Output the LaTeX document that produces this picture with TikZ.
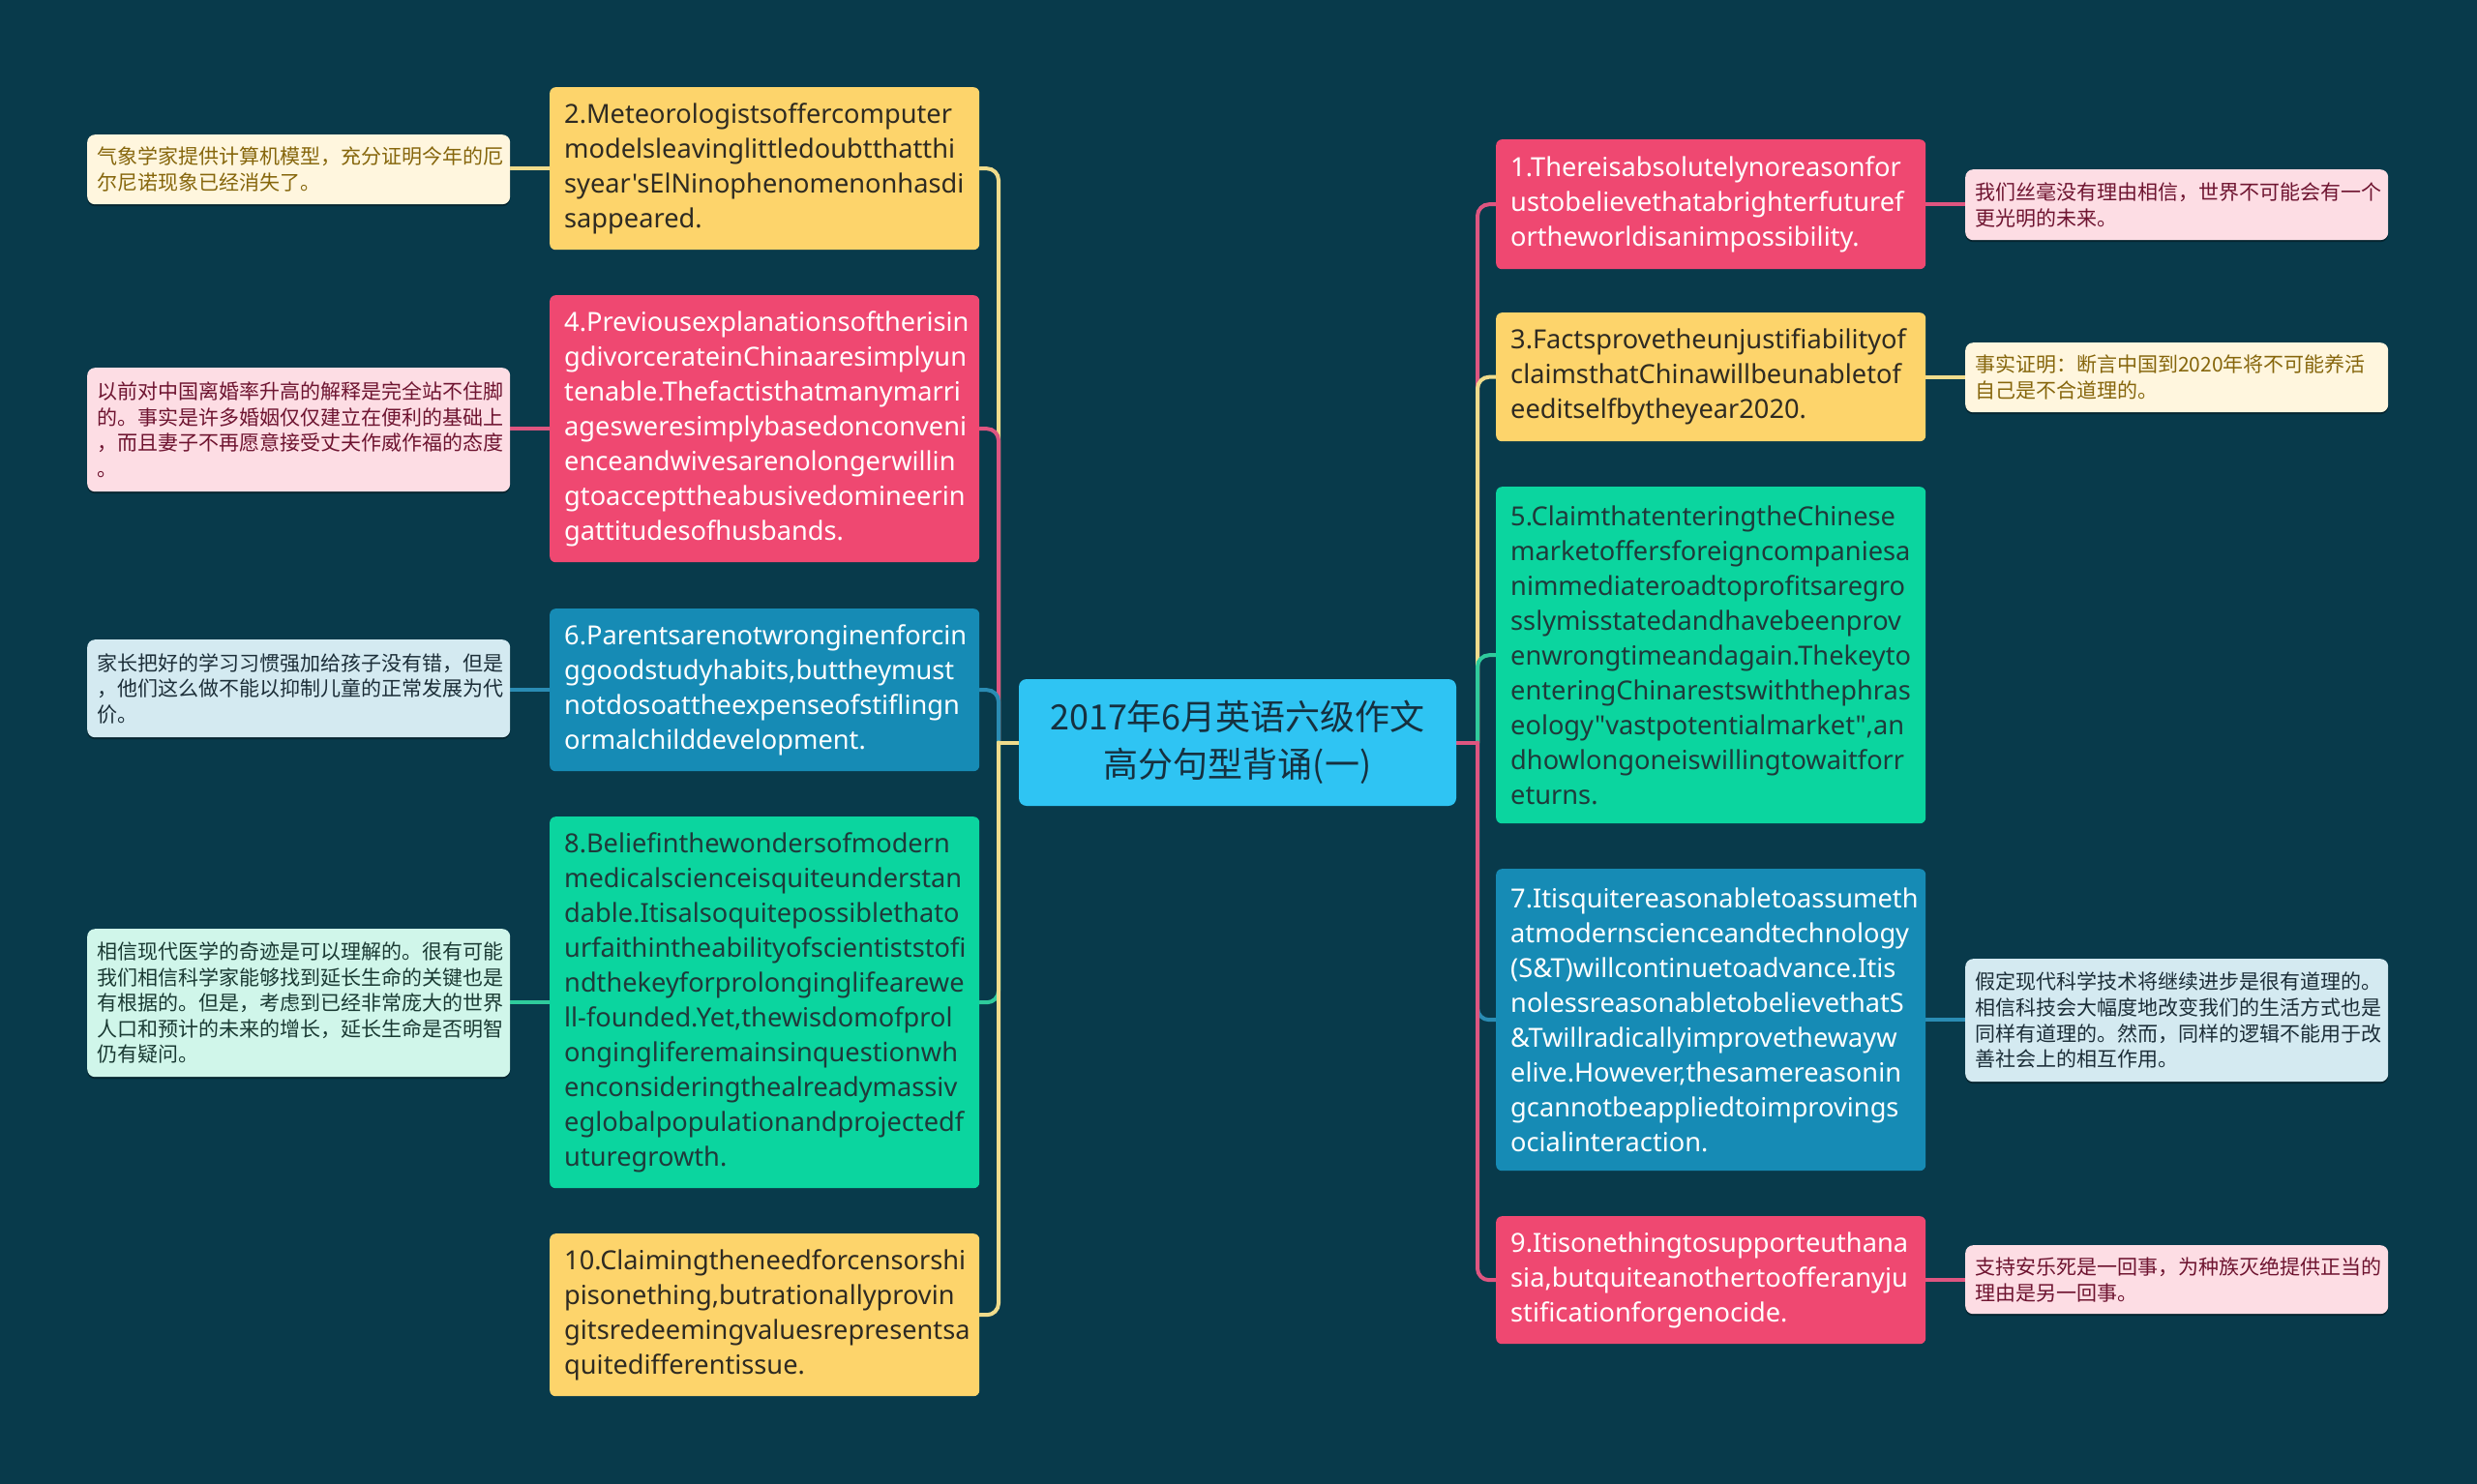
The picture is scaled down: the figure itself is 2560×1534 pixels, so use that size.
\documentclass[tikz,border=0pt]{standalone}
\usepackage{fontspec}
\newfontfamily\cjk{Noto Sans CJK SC}
\newfontfamily\lat{Noto Sans}
\usetikzlibrary{shadows}
\pgfdeclarelayer{back}
\pgfdeclarelayer{lines}
\pgfsetlayers{back,lines,main}
\definecolor{bgc}{HTML}{083A4B}
\definecolor{redc}{HTML}{EF4871}
\definecolor{yelc}{HTML}{FDD46B}
\definecolor{bluc}{HTML}{168BB5}
\definecolor{grnc}{HTML}{0BD59F}
\definecolor{cenc}{HTML}{2FC4F3}
\definecolor{redl}{HTML}{DE5580}
\definecolor{yell}{HTML}{F0DC8C}
\definecolor{blul}{HTML}{2A8CB4}
\definecolor{grnl}{HTML}{2FCB9C}
\definecolor{ntyel}{HTML}{FFF6DE}
\definecolor{ntred}{HTML}{FDDDE4}
\definecolor{ntblu}{HTML}{D4EAF1}
\definecolor{ntgrn}{HTML}{D0F6EA}
\definecolor{tyel}{HTML}{86660C}
\definecolor{tred}{HTML}{6E1430}
\definecolor{tblu}{HTML}{1C2E38}
\definecolor{tgrn}{HTML}{1A3A33}
\definecolor{tdyel}{HTML}{2E2A22}
\definecolor{tdgrn}{HTML}{1F3A3A}
\definecolor{tcen}{HTML}{16303F}
\tikzset{
  br/.style={rounded corners=6pt, inner xsep=15pt, inner ysep=0pt, text width=414pt,
    minimum width=444pt, align=left, font=\lat\fontsize{27.2}{36}\selectfont, anchor=north west},
  nt/.style={rounded corners=8pt, inner xsep=10pt, inner ysep=0pt, text width=417pt,
    minimum width=437pt, align=left, font=\cjk\fontsize{21}{26.6}\selectfont, anchor=north west,
    drop shadow={shadow xshift=0pt, shadow yshift=-2pt, fill=black, opacity=0.35}},
  ln/.style={line width=4pt, line cap=round},
  rbr/.style={br, fill=redc, text=white},
  ybr/.style={br, fill=yelc, text=tdyel},
  bbr/.style={br, fill=bluc, text=white},
  gbr/.style={br, fill=grnc, text=tdgrn},
  rnt/.style={nt, fill=ntred, text=tred},
  ynt/.style={nt, fill=ntyel, text=tyel},
  bnt/.style={nt, fill=ntblu, text=tblu},
  gnt/.style={nt, fill=ntgrn, text=tgrn},
}
\begin{document}
\begin{tikzpicture}[x=1pt, y=-1pt]
\begin{pgfonlayer}{back}
\fill[bgc] (0,0) rectangle (2560,1534);
\end{pgfonlayer}
\useasboundingbox (0,0) rectangle (2560,1534);

% center
\node[fill=cenc, rounded corners=8pt, minimum width=452pt, minimum height=131pt, inner sep=0pt,
  align=center, text=tcen, font=\cjk\fontsize{36}{49}\selectfont] (c) at (1279,767.5)
  {2017年6月英语六级作文\\高分句型背诵(一)};

% left branches
\node[ybr, minimum height=168pt] (n2) at (568,90) {2.Meteorologistsoffercomputer\\modelsleavinglittledoubtthatthi\\syear'sElNinophenomenonhasdi\\sappeared.};
\node[rbr, minimum height=276pt] (n4) at (568,305) {4.Previousexplanationsoftherisin\\gdivorcerateinChinaaresimplyun\\tenable.Thefactisthatmanymarri\\agesweresimplybasedonconveni\\enceandwivesarenolongerwillin\\gtoaccepttheabusivedomineerin\\gattitudesofhusbands.};
\node[bbr, minimum height=168pt] (n6) at (568,629) {6.Parentsarenotwronginenforcin\\ggoodstudyhabits,buttheymust\\notdosoattheexpenseofstiflingn\\ormalchilddevelopment.};
\node[gbr, minimum height=384pt] (n8) at (568,844) {8.Beliefinthewondersofmodern\\medicalscienceisquiteunderstan\\dable.Itisalsoquitepossiblethato\\urfaithintheabilityofscientiststofi\\ndthekeyforprolonginglifearewe\\ll-founded.Yet,thewisdomofprol\\ongingliferemainsinquestionwh\\enconsideringthealreadymassiv\\eglobalpopulationandprojectedf\\uturegrowth.};
\node[ybr, minimum height=168pt] (n10) at (568,1275) {10.Claimingtheneedforcensorshi\\pisonething,butrationallyprovin\\gitsredeemingvaluesrepresentsa\\quitedifferentissue.};

% right branches
\node[rbr, minimum height=134pt] (n1) at (1546,144) {1.Thereisabsolutelynoreasonfor\\ustobelievethatabrighterfuturef\\ortheworldisanimpossibility.};
\node[ybr, minimum height=133pt] (n3) at (1546,323) {3.Factsprovetheunjustifiabilityof\\claimsthatChinawillbeunabletof\\eeditselfbytheyear2020.};
\node[gbr, minimum height=348pt] (n5) at (1546,503) {5.ClaimthatenteringtheChinese\\marketoffersforeigncompaniesa\\nimmediateroadtoprofitsaregro\\sslymisstatedandhavebeenprov\\enwrongtimeandagain.Thekeyto\\enteringChinarestswiththephras\\eology"vastpotentialmarket",an\\dhowlongoneiswillingtowaitforr\\eturns.};
\node[bbr, minimum height=312pt] (n7) at (1546,898) {7.Itisquitereasonabletoassumeth\\atmodernscienceandtechnology\\(S\&T)willcontinuetoadvance.Itis\\nolessreasonabletobelievethatS\\\&Twillradicallyimprovethewayw\\elive.However,thesamereasonin\\gcannotbeappliedtoimprovings\\ocialinteraction.};
\node[rbr, minimum height=132pt] (n9) at (1546,1257) {9.Itisonethingtosupporteuthana\\sia,butquiteanothertoofferanyju\\stificationforgenocide.};

% left notes
\node[ynt, minimum height=72pt] (t2) at (90,139) {气象学家提供计算机模型，充分证明今年的厄\\尔尼诺现象已经消失了。};
\node[rnt, minimum height=128pt] (t4) at (90,380) {以前对中国离婚率升高的解释是完全站不住脚\\的。事实是许多婚姻仅仅建立在便利的基础上\\，而且妻子不再愿意接受丈夫作威作福的态度\\。};
\node[bnt, minimum height=101pt] (t6) at (90,661) {家长把好的学习习惯强加给孩子没有错，但是\\，他们这么做不能以抑制儿童的正常发展为代\\价。};
\node[gnt, minimum height=153pt] (t8) at (90,960) {相信现代医学的奇迹是可以理解的。很有可能\\我们相信科学家能够找到延长生命的关键也是\\有根据的。但是，考虑到已经非常庞大的世界\\人口和预计的未来的增长，延长生命是否明智\\仍有疑问。};

% right notes
\node[rnt, minimum height=73pt] (t1) at (2031,175) {我们丝毫没有理由相信，世界不可能会有一个\\更光明的未来。};
\node[ynt, minimum height=72pt] (t3) at (2031,354) {事实证明：断言中国到2020年将不可能养活\\自己是不合道理的。};
\node[bnt, minimum height=127pt] (t7) at (2031,991) {假定现代科学技术将继续进步是很有道理的。\\相信科技会大幅度地改变我们的生活方式也是\\同样有道理的。然而，同样的逻辑不能用于改\\善社会上的相互作用。};
\node[rnt, minimum height=71pt] (t9) at (2031,1287) {支持安乐死是一回事，为种族灭绝提供正当的\\理由是另一回事。};

\coordinate (L) at (1032,767.5);
\coordinate (R) at (1527,767.5);

\begin{pgfonlayer}{lines}
% left connectors, drawn in order 2,4,6,8,10
\foreach \n/\col in {n2/yell, n4/redl, n6/blul, n8/grnl, n10/yell}{
  \draw[ln, \col] (c.west) -- (L);
  \draw[ln, \col, rounded corners=12pt] (L) |- (\n.east);
}
% right connectors, drawn in order 1,3,5,7,9
\foreach \n/\col in {n1/redl, n3/yell, n5/grnl, n7/blul, n9/redl}{
  \draw[ln, \col] (c.east) -- (R);
  \draw[ln, \col, rounded corners=12pt] (R) |- (\n.west);
}
% branch to note
\draw[ln, yell] (n2.west) -- (t2.east |- n2.west);
\draw[ln, redl] (n4.west) -- (t4.east |- n4.west);
\draw[ln, blul] (n6.west) -- (t6.east |- n6.west);
\draw[ln, grnl] (n8.west) -- (t8.east |- n8.west);
\draw[ln, redl] (n1.east) -- (t1.west |- n1.east);
\draw[ln, yell] (n3.east) -- (t3.west |- n3.east);
\draw[ln, blul] (n7.east) -- (t7.west |- n7.east);
\draw[ln, redl] (n9.east) -- (t9.west |- n9.east);
\end{pgfonlayer}
\end{tikzpicture}
\end{document}
